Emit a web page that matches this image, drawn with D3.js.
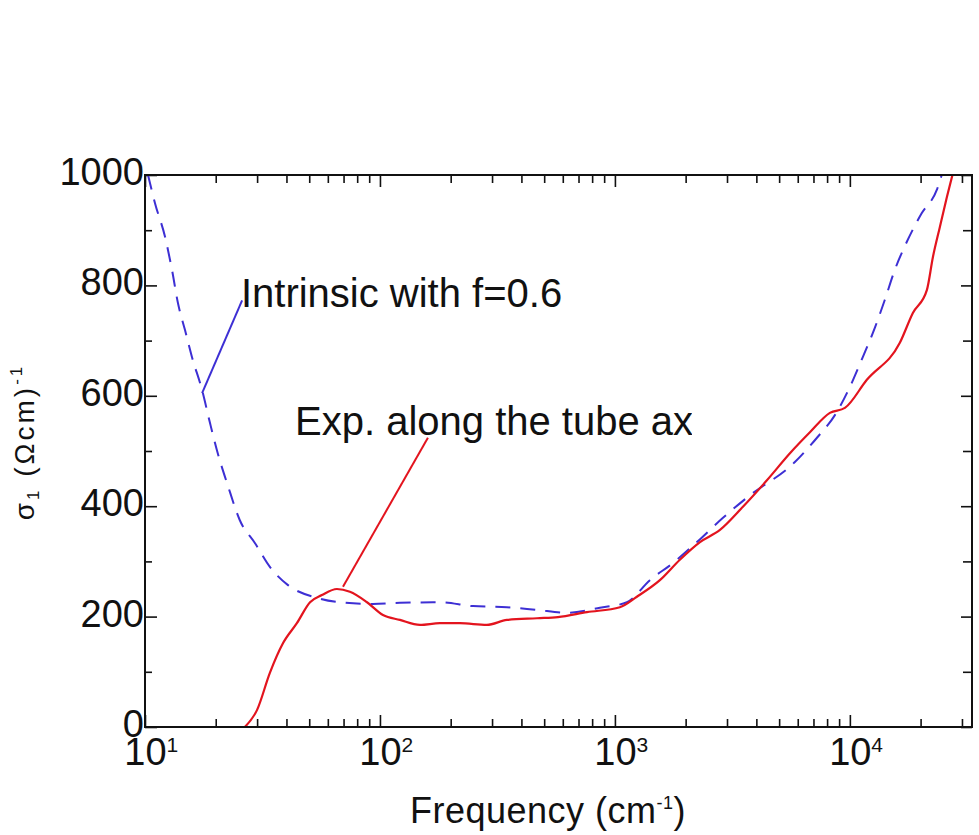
<!DOCTYPE html>
<html>
<head>
<meta charset="utf-8">
<script src="https://cdn.jsdelivr.net/npm/d3@7"></script>
<style>
  html, body { margin: 0; padding: 0; background: #ffffff; }
  svg { display: block; }
  text { font-family: "Liberation Sans", Arial, sans-serif; fill: #111; }
</style>
</head>
<body>
<svg id="chart" width="979" height="835"></svg>
<script>
// ---- data ----
const intrinsicFreq = [10.3, 11.03, 12.17, 13.03, 13.81, 14.8, 15.85, 17.48, 18.9, 20.4, 22.5, 25.3, 29.4, 34.0, 40.6, 54, 67.6, 93.3, 121.6, 180, 249, 347, 466, 625, 863, 1125, 1409, 1766, 2234, 2884, 3684, 5834, 7244, 8636, 10000, 11350, 12770, 14090, 15530, 17480, 20240, 23440, 24600];
const intrinsicSigma = [1000, 949, 888, 828, 768, 719, 670, 611, 551, 496, 438, 375, 333, 290, 257, 234, 226, 223, 225, 226, 219, 217, 212, 207, 216, 226, 266, 297, 335, 379, 417, 480, 524, 565, 616, 670, 723, 774, 828, 879, 931, 973, 1000];

const expFreq = [26.6, 30.0, 34.0, 38.7, 44.3, 50.4, 56.6, 65.6, 74.5, 88.1, 103, 121.6, 148, 180, 219, 285, 347, 466, 572, 760, 1050, 1240, 1554, 1890, 2302, 2800, 3506, 4436, 5559, 6761, 8222, 9527, 11810, 16320, 18540, 21280, 22560, 24160, 25880, 27400];
const expSigma = [0, 31, 98, 152, 188, 226, 239, 250, 245, 226, 203, 194, 185, 188, 188, 185, 194, 197, 199, 208, 217, 236, 266, 303, 335, 357, 399, 447, 496, 534, 569, 578, 629, 696, 750, 792, 851, 906, 960, 1002];

const xMajorTicks = [10, 100, 1000, 10000];
const xTickExponents = ["1", "2", "3", "4"];
const yMajorTicks = [0, 200, 400, 600, 800, 1000];
const yMinorTicks = [100, 300, 500, 700, 900];

const annotationTexts = ["Intrinsic with f=0.6", "Exp. along the tube axis"];
// annotation anchor / leader line ends in data units (frequency, sigma)
const annotationTextPos = [[25.6, 761], [43.5, 529]];
const annotationLeaderFrom = [[25.9, 773], [160, 524]];
const annotationLeaderTo = [[17.5, 605], [69.6, 254]];
const annotationClipFreq = [618, 2128];

// ---- layout ----
const W = 979, H = 835;
const mLeft = 145, mRight = 972, mTop = 175, mBottom = 727;
const svg = d3.select("#chart");

const x = d3.scaleLog().domain([10, 33100]).range([mLeft, mRight]);
const y = d3.scaleLinear().domain([0, 1000]).range([mBottom, mTop]);

const blue = "#3d2fd4";
const red = "#e3141e";

// minor log ticks
const xMinorTicks = [];
[10, 100, 1000, 10000].forEach(d => {
  for (let k = 2; k <= 9; k++) {
    const v = d * k;
    if (v <= x.domain()[1]) xMinorTicks.push(v);
  }
});

function styleAxis(g) {
  g.select(".domain").remove();
  g.selectAll(".tick line").attr("stroke", "#111").attr("stroke-width", 1.6);
}

// bottom axis (ticks inward)
svg.append("g").attr("transform", `translate(0,${mBottom})`)
  .call(d3.axisBottom(x).tickValues(xMinorTicks).tickSize(-8).tickFormat(() => ""))
  .call(styleAxis);
const xMaj = svg.append("g").attr("transform", `translate(0,${mBottom})`)
  .call(d3.axisBottom(x).tickValues(xMajorTicks).tickSize(-12).tickFormat(() => ""))
  .call(styleAxis);
xMaj.selectAll(".tick text").remove();
xMaj.selectAll(".tick").each(function(d, i) {
  const g = d3.select(this);
  g.append("text").attr("x", 0).attr("y", 38).attr("text-anchor", "middle")
    .attr("font-size", 38).attr("fill", "#111").text("10");
  g.append("text").attr("x", 21).attr("y", 25).attr("text-anchor", "start")
    .attr("font-size", 21).attr("fill", "#111").text(xTickExponents[i]);
});

// top axis (ticks inward)
svg.append("g").attr("transform", `translate(0,${mTop})`)
  .call(d3.axisTop(x).tickValues(xMinorTicks).tickSize(-8).tickFormat(() => ""))
  .call(styleAxis);
svg.append("g").attr("transform", `translate(0,${mTop})`)
  .call(d3.axisTop(x).tickValues(xMajorTicks).tickSize(-12).tickFormat(() => ""))
  .call(styleAxis);

// left axis
svg.append("g").attr("transform", `translate(${mLeft},0)`)
  .call(d3.axisLeft(y).tickValues(yMinorTicks).tickSize(-7).tickFormat(() => ""))
  .call(styleAxis);
const yMaj = svg.append("g").attr("transform", `translate(${mLeft},0)`)
  .call(d3.axisLeft(y).tickValues(yMajorTicks).tickSize(-12).tickPadding(1).tickFormat(d3.format("d")))
  .call(styleAxis);
yMaj.selectAll(".tick text")
  .attr("font-size", 38).attr("font-family", "Liberation Sans, Arial, sans-serif")
  .attr("fill", "#111").attr("dy", null).attr("y", 9.5).attr("x", -1);

// right axis
svg.append("g").attr("transform", `translate(${mRight},0)`)
  .call(d3.axisRight(y).tickValues(yMinorTicks).tickSize(-9).tickFormat(() => ""))
  .call(styleAxis);
svg.append("g").attr("transform", `translate(${mRight},0)`)
  .call(d3.axisRight(y).tickValues(yMajorTicks).tickSize(-11).tickFormat(() => ""))
  .call(styleAxis);

// clip for the curves
svg.append("clipPath").attr("id", "plotClip").append("rect")
  .attr("x", mLeft).attr("y", mTop).attr("width", mRight - mLeft).attr("height", mBottom - mTop);

const line = d3.line().x(d => x(d[0])).y(d => y(d[1])).curve(d3.curveMonotoneX);

const plot = svg.append("g").attr("clip-path", "url(#plotClip)");
plot.append("path")
  .datum(intrinsicFreq.map((f, i) => [f, intrinsicSigma[i]]))
  .attr("d", line).attr("fill", "none").attr("stroke", blue)
  .attr("stroke-width", 2).attr("stroke-dasharray", "15,10");
plot.append("path")
  .datum(expFreq.map((f, i) => [f, expSigma[i]]))
  .attr("d", line).attr("fill", "none").attr("stroke", red)
  .attr("stroke-width", 2.2);

// annotations
const leaderColors = [blue, red];
annotationTexts.forEach((t, i) => {
  svg.append("line")
    .attr("x1", x(annotationLeaderFrom[i][0])).attr("y1", y(annotationLeaderFrom[i][1]))
    .attr("x2", x(annotationLeaderTo[i][0])).attr("y2", y(annotationLeaderTo[i][1]))
    .attr("stroke", leaderColors[i]).attr("stroke-width", 2);
  const cid = "annClip" + i;
  svg.append("clipPath").attr("id", cid).append("rect")
    .attr("x", 0).attr("y", 0).attr("width", x(annotationClipFreq[i])).attr("height", H);
  svg.append("text")
    .attr("clip-path", `url(#${cid})`)
    .attr("x", x(annotationTextPos[i][0])).attr("y", y(annotationTextPos[i][1]))
    .attr("font-size", 40).attr("fill", "#1a1a1a").text(t);
});

// frame
svg.append("rect").attr("x", mLeft).attr("y", mTop)
  .attr("width", mRight - mLeft).attr("height", mBottom - mTop)
  .attr("fill", "none").attr("stroke", "#111").attr("stroke-width", 2);

// x axis title
const xt = svg.append("text").attr("x", 410).attr("y", 823)
  .attr("font-size", 36).attr("letter-spacing", 0.5).attr("fill", "#222");
xt.append("tspan").text("Frequency (cm");
xt.append("tspan").attr("font-size", 18).attr("dy", -14).text("-1");
xt.append("tspan").attr("dy", 14).text(")");

// y axis title
const yt = svg.append("text")
  .attr("transform", "translate(34,442) rotate(-90)")
  .attr("text-anchor", "middle").attr("font-size", 28).attr("letter-spacing", 3).attr("fill", "#111");
yt.append("tspan").text("σ");
yt.append("tspan").attr("font-size", 17).attr("dy", 5).text("1");
yt.append("tspan").attr("dy", -5).text(" (Ωcm)");
yt.append("tspan").attr("font-size", 17).attr("dy", -12).text("-1");
</script>
</body>
</html>
